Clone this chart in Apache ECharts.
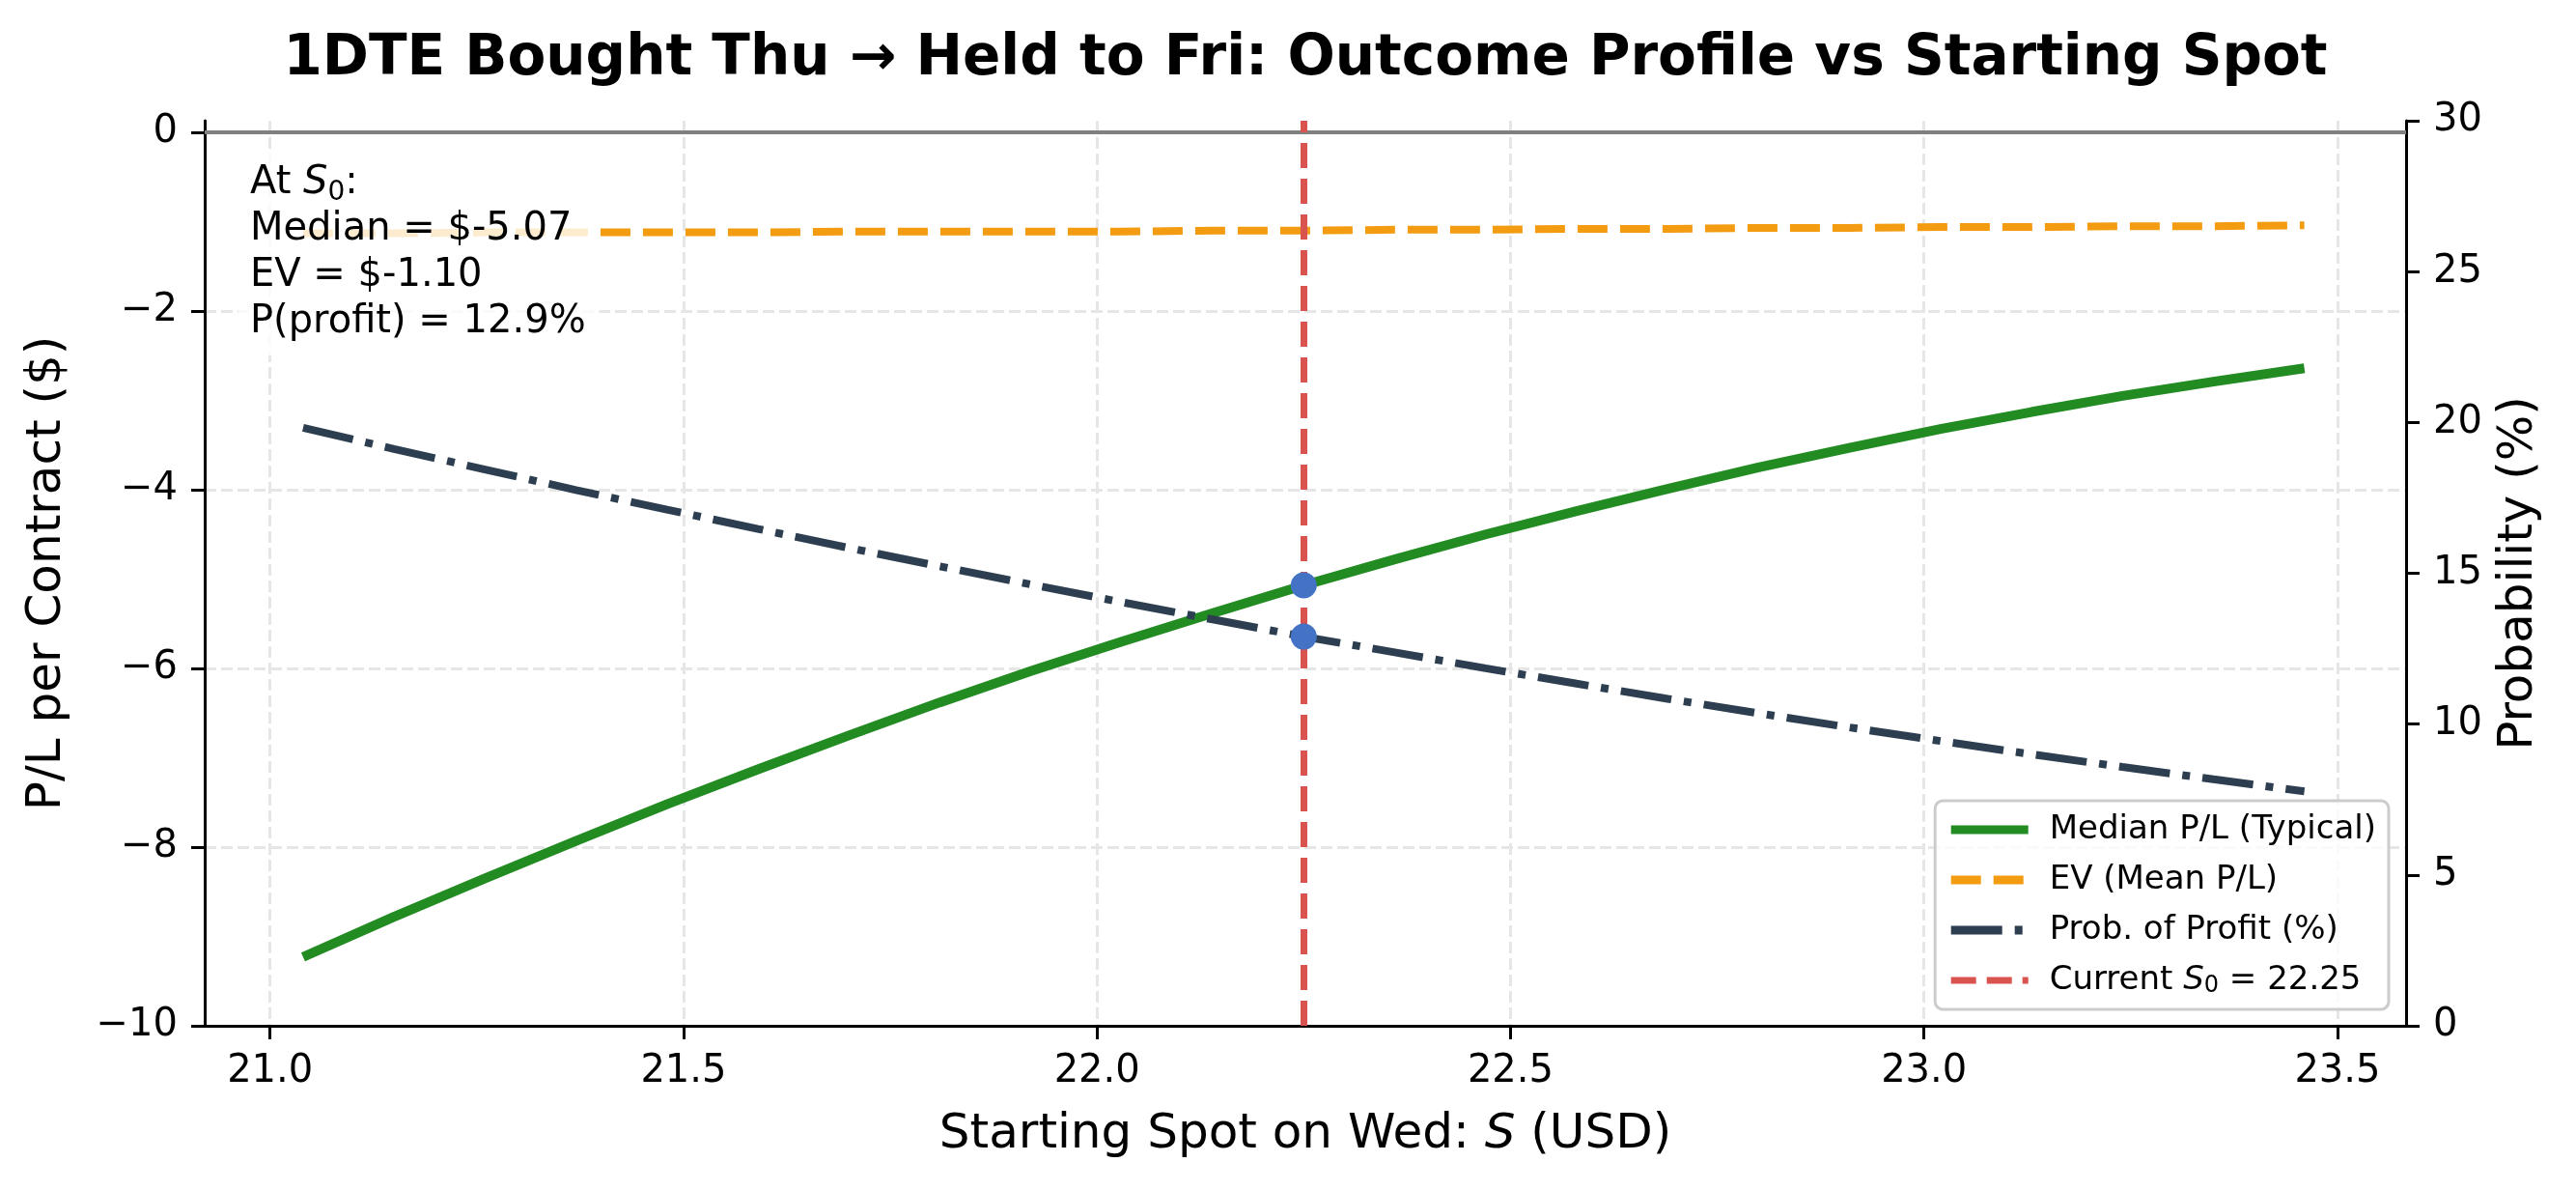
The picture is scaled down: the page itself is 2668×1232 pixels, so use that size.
<!DOCTYPE html>
<html>
<head>
<meta charset="utf-8">
<script src="https://cdn.jsdelivr.net/npm/echarts@6/dist/echarts.min.js"></script>
<style>
html,body{margin:0;padding:0;background:#fff;}
#chart{width:2668px;height:1232px;}
</style>
</head>
<body>
<div id="chart"></div>
<script>
// ---- data ----
const spot = [21.04, 21.15, 21.26, 21.37, 21.48, 21.59, 21.70, 21.81, 21.92, 22.03, 22.14, 22.25,
              22.36, 22.47, 22.58, 22.69, 22.80, 22.91, 23.02, 23.13, 23.24, 23.35, 23.46];
const medianPL = [-9.23, -8.78, -8.35, -7.93, -7.52, -7.13, -6.75, -6.38, -6.03, -5.70, -5.38, -5.07,
                  -4.78, -4.50, -4.24, -3.99, -3.75, -3.53, -3.32, -3.13, -2.95, -2.79, -2.64];
const evPL = [-1.13, -1.13, -1.12, -1.12, -1.12, -1.12, -1.11, -1.11, -1.11, -1.11, -1.10, -1.10,
              -1.09, -1.09, -1.08, -1.08, -1.07, -1.07, -1.06, -1.06, -1.05, -1.05, -1.04];
const probProfit = [19.82, 19.12, 18.44, 17.76, 17.11, 16.47, 15.84, 15.23, 14.63, 14.04, 13.47, 12.90,
                    12.38, 11.85, 11.34, 10.84, 10.36, 9.89, 9.44, 9.00, 8.58, 8.17, 7.77];
const S0 = 22.25;
const S0_median = -5.07;
const S0_ev = -1.10;
const S0_prob = 12.9;
const xTicks = [21.0, 21.5, 22.0, 22.5, 23.0, 23.5];
const yLeftTicks = [-10, -8, -6, -4, -2, 0];
const seriesNames = ['Median P/L (Typical)', 'EV (Mean P/L)', 'Prob. of Profit (%)', 'Current S0 = 22.25'];

// ---- chart ----
const FONT = '"DejaVu Sans", sans-serif';
const zip = (xs, ys) => xs.map((x, i) => [x, ys[i]]);
const chart = echarts.init(document.getElementById('chart'), null, {renderer: 'canvas'});

const axisLineStyle = {color: '#000', width: 3};
const gridLine = {show: true, lineStyle: {color: '#e6e6e6', width: 3, type: [12, 5]}};

const option = {
  animation: false,
  backgroundColor: '#fff',
  grid: {left: 212, right: 176, top: 125, bottom: 170, containLabel: false},
  title: [{
    text: '{n|At }{i|S}{s|0}{n|:}\n{n|Median = $' + S0_median.toFixed(2) + '}\n{n|EV = $' + S0_ev.toFixed(2) +
          '}\n{n|P(profit) = ' + S0_prob.toFixed(1) + '%}',
    left: 247, top: 158,
    padding: [8, 14, 10, 12],
    backgroundColor: 'rgba(255,255,255,0.8)',
    borderRadius: 12,
    textStyle: {
      fontFamily: FONT, fontSize: 40, lineHeight: 48, color: '#000', fontWeight: 'normal',
      rich: {
        n: {fontFamily: FONT, fontSize: 40, lineHeight: 48, color: '#000'},
        i: {fontFamily: FONT, fontSize: 40, lineHeight: 48, color: '#000', fontStyle: 'italic'},
        s: {fontFamily: FONT, fontSize: 28, lineHeight: 33, color: '#000', verticalAlign: 'bottom'}
      }
    }
  }],
  graphic: [{
    type: 'text', x: 1352, y: 62, z: 10,
    style: {
      text: '1DTE Bought Thu \u2192 Held to Fri: Outcome Profile vs Starting Spot',
      font: 'bold 58px "DejaVu Sans", sans-serif', fill: '#000',
      textAlign: 'center', textVerticalAlign: 'middle'
    }
  }],
  legend: {
    data: seriesNames.map((n, i) => i === 3 ? {name: n, lineStyle: {width: 7}} : {name: n}),
    orient: 'vertical',
    right: 194, bottom: 187,
    padding: [12, 13, 12, 12],
    itemWidth: 80, itemHeight: 14, itemGap: 16,
    backgroundColor: 'rgba(255,255,255,0.8)',
    borderColor: '#cccccc', borderWidth: 3, borderRadius: 8,
    lineStyle: {width: 9},
    itemStyle: {color: 'rgba(0,0,0,0)', borderColor: 'rgba(0,0,0,0)', borderWidth: 0, opacity: 0},
    formatter: name => name === seriesNames[3] ? '{n|Current }{i|S}{s|0}{n| = ' + S0.toFixed(2) + '}' : name,
    textStyle: {
      fontFamily: FONT, fontSize: 34, lineHeight: 36, color: '#000', padding: [0, 0, 0, 17],
      rich: {
        n: {fontFamily: FONT, fontSize: 34, lineHeight: 36, color: '#000'},
        i: {fontFamily: FONT, fontSize: 34, lineHeight: 36, color: '#000', fontStyle: 'italic'},
        s: {fontFamily: FONT, fontSize: 24, lineHeight: 26, color: '#000', verticalAlign: 'bottom'}
      }
    },
    selectedMode: false
  },
  xAxis: {
    type: 'value', min: 20.921, max: 23.583, splitNumber: 5,
    name: '{n|Starting Spot on Wed: }{i|S}{n| (USD)}',
    nameLocation: 'middle', nameGap: 88,
    nameTextStyle: {
      fontFamily: FONT, fontSize: 50, color: '#000',
      rich: {
        n: {fontFamily: FONT, fontSize: 50, color: '#000'},
        i: {fontFamily: FONT, fontSize: 50, color: '#000', fontStyle: 'italic'}
      }
    },
    axisLine: {show: true, onZero: false, lineStyle: axisLineStyle},
    axisTick: {show: true, length: 14, lineStyle: axisLineStyle, customValues: xTicks},
    axisLabel: {show: true, fontFamily: FONT, fontSize: 40, color: '#000', margin: 28,
                customValues: xTicks, formatter: v => v.toFixed(1)},
    splitLine: gridLine
  },
  yAxis: [{
    type: 'value', min: -10, max: 0.13, position: 'left',
    name: 'P/L per Contract ($)', nameLocation: 'middle', nameGap: 138,
    nameTextStyle: {fontFamily: FONT, fontSize: 50, color: '#000'},
    axisLine: {show: true, onZero: false, lineStyle: axisLineStyle},
    axisTick: {show: true, length: 14, lineStyle: axisLineStyle, customValues: yLeftTicks},
    axisLabel: {show: true, fontFamily: FONT, fontSize: 40, color: '#000', margin: 28,
                customValues: yLeftTicks, formatter: v => v < 0 ? '\u2212' + Math.abs(v) : String(v)},
    splitLine: gridLine
  }, {
    type: 'value', min: 0, max: 30, interval: 5, position: 'right',
    name: 'Probability (%)', nameLocation: 'middle', nameGap: 92,
    nameTextStyle: {fontFamily: FONT, fontSize: 50, color: '#000'},
    axisLine: {show: true, onZero: false, lineStyle: axisLineStyle},
    axisTick: {show: true, length: 14, lineStyle: axisLineStyle},
    axisLabel: {show: true, fontFamily: FONT, fontSize: 40, color: '#000', margin: 28},
    splitLine: {show: false}
  }],
  series: [{
    name: seriesNames[0], type: 'line', yAxisIndex: 0, data: zip(spot, medianPL),
    symbol: 'none', smooth: false, z: 3,
    lineStyle: {color: '#228B22', width: 10, cap: 'butt'},
    itemStyle: {color: '#228B22'},
    markLine: {
      silent: true, symbol: ['none', 'none'], label: {show: false}, z: 1,
      lineStyle: {color: '#808080', width: 4, type: 'solid'},
      data: [{yAxis: 0}]
    }
  }, {
    name: seriesNames[1], type: 'line', yAxisIndex: 0, data: zip(spot, evPL),
    symbol: 'none', z: 3,
    lineStyle: {color: '#F39C12', width: 8, type: [31, 13], cap: 'butt'},
    itemStyle: {color: '#F39C12'}
  }, {
    name: seriesNames[2], type: 'line', yAxisIndex: 1, data: zip(spot, probProfit),
    symbol: 'none', z: 3,
    lineStyle: {color: '#2C3E50', width: 8, type: [53, 13, 8, 13], cap: 'butt'},
    itemStyle: {color: '#2C3E50'}
  }, {
    name: seriesNames[3], type: 'line', yAxisIndex: 0, data: [[S0, S0_median]],
    symbol: 'none', z: 4,
    lineStyle: {color: '#D9534F', width: 7, type: [26, 11], cap: 'butt'},
    itemStyle: {color: '#D9534F'},
    markLine: {
      silent: true, symbol: ['none', 'none'], label: {show: false}, z: 4,
      lineStyle: {color: '#D9534F', width: 7, type: [26, 11]},
      data: [{xAxis: S0}]
    }
  }, {
    name: 'S0 median point', type: 'scatter', yAxisIndex: 0, data: [[S0, S0_median]],
    symbol: 'circle', symbolSize: 27, z: 6, silent: true,
    itemStyle: {color: '#4472C4', opacity: 1}
  }, {
    name: 'S0 prob point', type: 'scatter', yAxisIndex: 1, data: [[S0, S0_prob]],
    symbol: 'circle', symbolSize: 27, z: 6, silent: true,
    itemStyle: {color: '#4472C4', opacity: 1}
  }]
};
chart.setOption(option);
</script>
</body>
</html>
